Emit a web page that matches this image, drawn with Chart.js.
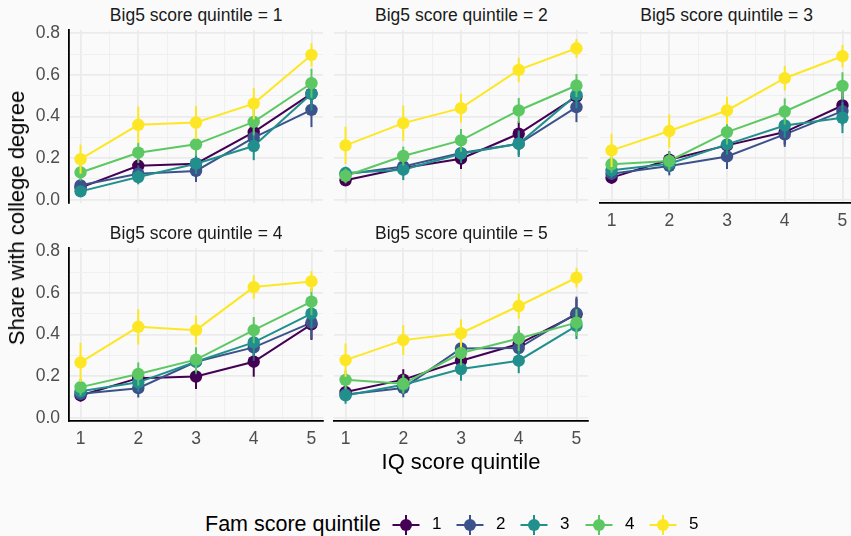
<!DOCTYPE html>
<html>
<head>
<meta charset="utf-8">
<script src="https://cdn.jsdelivr.net/npm/chart.js@4.4.1/dist/chart.umd.min.js"></script>
<style>
  html, body { margin: 0; padding: 0; background: #fafafa; }
  #fig { position: relative; width: 851px; height: 536px; overflow: hidden; background: #fafafa;
         font-family: "Liberation Sans", Arial, Helvetica, sans-serif; }
  #fig canvas { position: absolute; }
  .strip { position: absolute; width: 254px; text-align: center; font-size: 17.5px; color: #1a1a1a;
           line-height: 20px; white-space: nowrap; }
  .axtitle { position: absolute; font-size: 22px; color: #000; white-space: nowrap; line-height: 24px; }
  #legend { position: absolute; left: 0; top: 511px; width: 851px; height: 26px; }
  #legend .ttl { position: absolute; left: 205px; top: 0; font-size: 21.5px; line-height: 26px; }
  #legend svg { position: absolute; top: 3px; }
  #legend .lab { position: absolute; top: 0; font-size: 17px; line-height: 26px; color: #000; }
</style>
</head>
<body>
<div id="fig"></div>
<script>
// IQ quintiles on the x axis, one panel per Big5 quintile, one line per family-score quintile
const iqQuintile = [1, 2, 3, 4, 5];
const famQuintile = ['1', '2', '3', '4', '5'];
const big5Quintile = ['1', '2', '3', '4', '5'];
const famColors = ['#440154', '#3B528B', '#21908C', '#5DC863', '#FDE725'];
const yTicks = [0, 0.2, 0.4, 0.6, 0.8];

// share with college degree: rows = fam quintile 1..5, columns = IQ quintile 1..5
const b1Share = [
  [0.058, 0.163, 0.173, 0.325, 0.510],
  [0.069, 0.125, 0.138, 0.298, 0.432],
  [0.040, 0.109, 0.173, 0.258, 0.509],
  [0.131, 0.226, 0.266, 0.374, 0.560],
  [0.195, 0.360, 0.371, 0.462, 0.696]
];
const b1Err = [
  [0.030, 0.050, 0.050, 0.070, 0.080],
  [0.030, 0.040, 0.053, 0.070, 0.083],
  [0.025, 0.035, 0.050, 0.068, 0.080],
  [0.040, 0.050, 0.055, 0.065, 0.070],
  [0.070, 0.088, 0.080, 0.076, 0.056]
];
const b2Share = [
  [0.093, 0.152, 0.197, 0.317, 0.496],
  [0.122, 0.160, 0.224, 0.269, 0.445],
  [0.128, 0.144, 0.221, 0.269, 0.504],
  [0.114, 0.210, 0.285, 0.429, 0.549],
  [0.261, 0.368, 0.440, 0.624, 0.728]
];
const b2Err = [
  [0.025, 0.035, 0.050, 0.060, 0.070],
  [0.030, 0.035, 0.045, 0.055, 0.072],
  [0.030, 0.050, 0.045, 0.064, 0.065],
  [0.035, 0.045, 0.055, 0.060, 0.055],
  [0.090, 0.085, 0.070, 0.058, 0.045]
];
const b3Share = [
  [0.106, 0.192, 0.261, 0.325, 0.453],
  [0.125, 0.162, 0.208, 0.314, 0.426],
  [0.141, 0.173, 0.266, 0.357, 0.394],
  [0.170, 0.186, 0.325, 0.424, 0.547],
  [0.237, 0.330, 0.429, 0.584, 0.690]
];
const b3Err = [
  [0.030, 0.040, 0.050, 0.060, 0.070],
  [0.030, 0.045, 0.060, 0.060, 0.070],
  [0.035, 0.040, 0.050, 0.060, 0.074],
  [0.040, 0.045, 0.060, 0.063, 0.066],
  [0.080, 0.080, 0.066, 0.060, 0.054]
];
const b4Share = [
  [0.107, 0.190, 0.198, 0.269, 0.449],
  [0.115, 0.142, 0.269, 0.338, 0.457],
  [0.127, 0.170, 0.269, 0.362, 0.500],
  [0.147, 0.210, 0.279, 0.421, 0.558],
  [0.266, 0.437, 0.421, 0.628, 0.655]
];
const b4Err = [
  [0.030, 0.045, 0.060, 0.072, 0.075],
  [0.030, 0.045, 0.055, 0.065, 0.080],
  [0.030, 0.045, 0.060, 0.065, 0.070],
  [0.040, 0.056, 0.060, 0.063, 0.065],
  [0.094, 0.085, 0.070, 0.056, 0.050]
];
const b5Share = [
  [0.123, 0.183, 0.274, 0.354, 0.497],
  [0.112, 0.143, 0.333, 0.335, 0.502],
  [0.107, 0.158, 0.234, 0.274, 0.441],
  [0.182, 0.163, 0.311, 0.381, 0.457],
  [0.277, 0.373, 0.406, 0.537, 0.673]
];
const b5Err = [
  [0.035, 0.050, 0.055, 0.065, 0.075],
  [0.030, 0.045, 0.065, 0.065, 0.080],
  [0.040, 0.045, 0.056, 0.060, 0.063],
  [0.045, 0.045, 0.060, 0.060, 0.065],
  [0.080, 0.072, 0.067, 0.060, 0.047]
];

const panelShare = [b1Share, b2Share, b3Share, b4Share, b5Share];
const panelErr = [b1Err, b2Err, b3Err, b4Err, b5Err];

// facet grid geometry
const PANEL_W = 254, PANEL_H = 172.6;
const colLeft = [69.2, 334.4, 599.6];
const rowTop = [30, 248];
const AX_W = 70, AX_H = 30, PAD_T = 28, PAD_R = 10;
const FONT = '"Liberation Sans", Arial, Helvetica, sans-serif';

// vertical error bars drawn right before each point layer
const errorBars = {
  id: 'errorBars',
  beforeDatasetDraw(chart, args) {
    const ds = chart.data.datasets[args.index];
    if (!ds.err) return;
    const xs = chart.scales.x, ys = chart.scales.y, ctx = chart.ctx;
    ctx.save();
    ctx.strokeStyle = ds.pointBackgroundColor;
    ctx.lineWidth = 2;
    ds.data.forEach((p, i) => {
      const px = xs.getPixelForValue(p.x);
      ctx.beginPath();
      ctx.moveTo(px, ys.getPixelForValue(p.y - ds.err[i]));
      ctx.lineTo(px, ys.getPixelForValue(p.y + ds.err[i]));
      ctx.stroke();
    });
    ctx.restore();
  }
};

const fig = document.getElementById('fig');

function addText(cls, text, css) {
  const d = document.createElement('div');
  d.className = cls;
  d.textContent = text;
  Object.assign(d.style, css);
  fig.appendChild(d);
  return d;
}

big5Quintile.forEach((b, k) => {
  const row = k < 3 ? 0 : 1;
  const col = k < 3 ? k : k - 3;
  const left = colLeft[col], top = rowTop[row];
  const showY = col === 0;
  const showX = row === 1 || k === 2;

  addText('strip', 'Big5 score quintile = ' + b,
          { left: left + 'px', top: (top - 25.5) + 'px' });

  const cv = document.createElement('canvas');
  const w = Math.round(AX_W + PANEL_W + PAD_R), h = Math.round(PAD_T + PANEL_H + AX_H);
  cv.width = w; cv.height = h;
  cv.style.left = (left - AX_W) + 'px';
  cv.style.top = (top - PAD_T) + 'px';
  cv.style.width = w + 'px'; cv.style.height = h + 'px';
  fig.appendChild(cv);

  const share = panelShare[k], err = panelErr[k];
  const datasets = [];
  famQuintile.forEach((f, i) => {
    const pts = iqQuintile.map((x, j) => ({ x: x, y: share[i][j] }));
    datasets.push({
      label: f, data: pts, borderColor: famColors[i], borderWidth: 2,
      pointRadius: 0, fill: false, tension: 0, order: 10 + (4 - i)
    });
    datasets.push({
      label: f, data: pts, err: err[i], showLine: false,
      pointRadius: 6.2, pointBorderWidth: 0, pointBackgroundColor: famColors[i],
      borderColor: famColors[i], order: 1 + (4 - i)
    });
  });

  new Chart(cv, {
    type: 'line',
    data: { datasets },
    plugins: [errorBars],
    options: {
      responsive: false, animation: false, events: [],
      layout: { padding: { top: PAD_T, right: PAD_R, left: 0, bottom: 0 } },
      plugins: { legend: { display: false }, tooltip: { enabled: false } },
      scales: {
        x: {
          type: 'linear', min: 0.8, max: 5.2,
          afterBuildTicks: s => { s.ticks = [1, 1.5, 2, 2.5, 3, 3.5, 4, 4.5, 5].map(v => ({ value: v })); },
          afterFit: s => { s.height = AX_H; },
          grid: {
            drawTicks: false,
            color: c => Number.isInteger(c.tick.value) ? '#ebebeb' : '#f0f0f0',
            lineWidth: c => Number.isInteger(c.tick.value) ? 1.8 : 1.1
          },
          border: { display: showX, color: '#000', width: 1.8 },
          ticks: {
            display: showX, autoSkip: false, maxRotation: 0, padding: 8,
            color: '#4d4d4d', font: { family: FONT, size: 17.5 },
            callback: v => Number.isInteger(v) ? String(v) : ''
          }
        },
        y: {
          type: 'linear', min: -0.016, max: 0.816,
          afterBuildTicks: s => { s.ticks = [0, 0.1, 0.2, 0.3, 0.4, 0.5, 0.6, 0.7, 0.8].map(v => ({ value: v })); },
          afterFit: s => { s.width = AX_W; },
          grid: {
            drawTicks: false,
            color: c => (Math.round(c.tick.value * 10) % 2 === 0) ? '#ebebeb' : '#f0f0f0',
            lineWidth: c => (Math.round(c.tick.value * 10) % 2 === 0) ? 1.8 : 1.1
          },
          border: { display: showY, color: '#000', width: 1.8 },
          ticks: {
            display: showY, autoSkip: false, padding: 9,
            color: '#4d4d4d', font: { family: FONT, size: 17.5 },
            callback: v => yTicks.some(t => Math.abs(t - v) < 1e-9) ? v.toFixed(1) : ''
          }
        }
      }
    }
  });
});

// axis titles
const yt = addText('axtitle', 'Share with college degree', {});
yt.style.left = '17px'; yt.style.top = '218px';
yt.style.transform = 'translate(-50%, -50%) rotate(-90deg)';
const xt = addText('axtitle', 'IQ score quintile', {});
xt.style.left = '461px'; xt.style.top = '462px';
xt.style.transform = 'translate(-50%, -50%)';

// legend: pointrange keys
const leg = document.createElement('div');
leg.id = 'legend';
fig.appendChild(leg);
const lt = document.createElement('div');
lt.className = 'ttl'; lt.textContent = 'Fam score quintile';
leg.appendChild(lt);
const keyCenters = [406, 470, 534, 599, 663];
famQuintile.forEach((f, i) => {
  const cx = keyCenters[i];
  const svg = document.createElementNS('http://www.w3.org/2000/svg', 'svg');
  svg.setAttribute('width', '30'); svg.setAttribute('height', '22');
  svg.style.left = (cx - 15) + 'px';
  svg.innerHTML =
    `<line x1="1.5" y1="11" x2="28.5" y2="11" stroke="${famColors[i]}" stroke-width="2"/>` +
    `<line x1="15" y1="1" x2="15" y2="21" stroke="${famColors[i]}" stroke-width="2"/>` +
    `<circle cx="15" cy="11" r="6" fill="${famColors[i]}"/>`;
  leg.appendChild(svg);
  const lab = document.createElement('div');
  lab.className = 'lab'; lab.textContent = f;
  lab.style.left = (cx + 26) + 'px';
  leg.appendChild(lab);
});
</script>
</body>
</html>
